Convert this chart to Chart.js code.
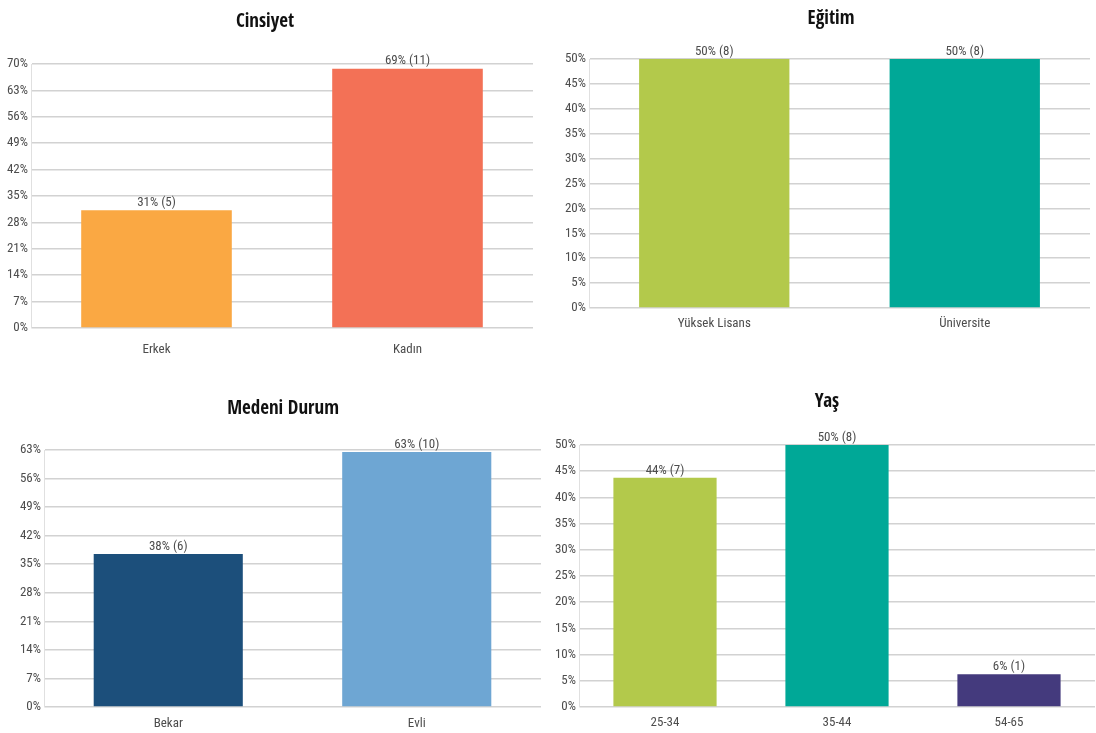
<!DOCTYPE html>
<html>
<head>
<meta charset="utf-8">
<script src="https://cdn.jsdelivr.net/npm/chart.js@4/dist/chart.umd.min.js"></script>
<style>
  html, body { margin: 0; padding: 0; background: #ffffff; }
  body { width: 1096px; height: 733px; position: relative; overflow: hidden; }
  .box { position: absolute; }
</style>
</head>
<body>
<div class="box" style="left:0;top:0;width:548px;height:366px"><canvas id="c1" width="548" height="366"></canvas></div>
<div class="box" style="left:548px;top:0;width:548px;height:366px"><canvas id="c2" width="548" height="366"></canvas></div>
<div class="box" style="left:0;top:366px;width:548px;height:367px"><canvas id="c3" width="548" height="367"></canvas></div>
<div class="box" style="left:548px;top:366px;width:548px;height:367px"><canvas id="c4" width="548" height="367"></canvas></div>
<script>
// ---- Data ----
const cinsiyetTitle = 'Cinsiyet';
const cinsiyetCategories = ['Erkek', 'Kadın'];
const cinsiyetValues = [31.25, 68.75];
const cinsiyetPctLabels = [31, 69];
const cinsiyetCounts = [5, 11];
const cinsiyetColors = ['#FAA843', '#F37156'];
const cinsiyetTicks = [0, 7, 14, 21, 28, 35, 42, 49, 56, 63, 70];

const egitimTitle = 'Eğitim';
const egitimCategories = ['Yüksek Lisans', 'Üniversite'];
const egitimValues = [50, 50];
const egitimPctLabels = [50, 50];
const egitimCounts = [8, 8];
const egitimColors = ['#B3C94B', '#00A897'];
const egitimTicks = [0, 5, 10, 15, 20, 25, 30, 35, 40, 45, 50];

const medeniTitle = 'Medeni Durum';
const medeniCategories = ['Bekar', 'Evli'];
const medeniValues = [37.5, 62.5];
const medeniPctLabels = [38, 63];
const medeniCounts = [6, 10];
const medeniColors = ['#1C4F7B', '#6EA6D3'];
const medeniTicks = [0, 7, 14, 21, 28, 35, 42, 49, 56, 63];

const yasTitle = 'Yaş';
const yasCategories = ['25-34', '35-44', '54-65'];
const yasValues = [43.75, 50, 6.25];
const yasPctLabels = [44, 50, 6];
const yasCounts = [7, 8, 1];
const yasColors = ['#B3C94B', '#00A897', '#443A7D'];
const yasTicks = [0, 5, 10, 15, 20, 25, 30, 35, 40, 45, 50];

// ---- Style ----
const FONT = "'Roboto Condensed', 'DejaVu Sans Condensed', sans-serif";
const TITLE_FONT = "'Open Sans Condensed', 'Roboto Condensed', sans-serif";
const TEXT = '#4d4d4d';

const valueLabelPlugin = {
  id: 'valueLabels',
  afterDatasetsDraw(chart, args, opts) {
    const ctx = chart.ctx;
    const meta = chart.getDatasetMeta(0);
    ctx.save();
    ctx.font = '13px ' + FONT;
    ctx.fillStyle = TEXT;
    ctx.textAlign = 'center';
    ctx.textBaseline = 'bottom';
    meta.data.forEach((bar, i) => {
      ctx.fillText(opts.pct[i] + '% (' + opts.counts[i] + ')', bar.x, bar.y - 1);
    });
    ctx.restore();
  }
};

const titlePlugin = {
  id: 'placedTitle',
  afterDraw(chart, args, opts) {
    const ctx = chart.ctx;
    ctx.save();
    ctx.font = 'bold 19px ' + TITLE_FONT;
    ctx.fillStyle = '#111111';
    ctx.textAlign = 'center';
    ctx.textBaseline = 'middle';
    ctx.fillText(opts.text, opts.x, opts.y);
    ctx.restore();
  }
};

function makeChart(id, cfg) {
  return new Chart(document.getElementById(id), {
    type: 'bar',
    data: {
      labels: cfg.categories,
      datasets: [{
        data: cfg.values,
        backgroundColor: cfg.colors,
        borderWidth: 0,
        barPercentage: 0.6,
        categoryPercentage: 1.0
      }]
    },
    plugins: [valueLabelPlugin, titlePlugin],
    options: {
      responsive: false,
      animation: false,
      layout: { padding: { left: 0, right: cfg.padR, top: cfg.top, bottom: 0 } },
      plugins: {
        legend: { display: false },
        tooltip: { enabled: false },
        title: { display: false },
        placedTitle: { text: cfg.title, x: cfg.titleX, y: cfg.titleY },
        valueLabels: { pct: cfg.pct, counts: cfg.counts }
      },
      scales: {
        x: {
          grid: { display: false },
          border: { display: false },
          ticks: { color: TEXT, font: { family: FONT, size: 13 }, padding: cfg.xPad, maxRotation: 0 },
          afterFit(scale) { scale.height = cfg.xHeight; }
        },
        y: {
          min: 0,
          max: cfg.ticks[cfg.ticks.length - 1],
          afterBuildTicks(scale) { scale.ticks = cfg.ticks.map(v => ({ value: v })); },
          grid: { color: '#d2d2d2', lineWidth: 1.5, drawTicks: false },
          border: { display: true, color: '#e0e0e0', width: 1 },
          ticks: {
            color: TEXT,
            font: { family: FONT, size: 13 },
            padding: 3,
            callback: v => v + '%'
          },
          afterFit(scale) { scale.width = cfg.yWidth; }
        }
      }
    }
  });
}

makeChart('c1', {
  title: cinsiyetTitle, categories: cinsiyetCategories, values: cinsiyetValues,
  pct: cinsiyetPctLabels, counts: cinsiyetCounts, colors: cinsiyetColors, ticks: cinsiyetTicks,
  padR: 15, yWidth: 31, top: 64, titleX: 265, titleY: 22, xHeight: 38, xPad: 6
});
makeChart('c2', {
  title: egitimTitle, categories: egitimCategories, values: egitimValues,
  pct: egitimPctLabels, counts: egitimCounts, colors: egitimColors, ticks: egitimTicks,
  padR: 6, yWidth: 41, top: 59, titleX: 283, titleY: 19, xHeight: 58, xPad: 0
});
makeChart('c3', {
  title: medeniTitle, categories: medeniCategories, values: medeniValues,
  pct: medeniPctLabels, counts: medeniCounts, colors: medeniColors, ticks: medeniTicks,
  padR: 7, yWidth: 44, top: 84, titleX: 283, titleY: 43, xHeight: 26, xPad: 1
});
makeChart('c4', {
  title: yasTitle, categories: yasCategories, values: yasValues,
  pct: yasPctLabels, counts: yasCounts, colors: yasColors, ticks: yasTicks,
  padR: 1, yWidth: 31, top: 79, titleX: 279, titleY: 36, xHeight: 26, xPad: 0
});
</script>
</body>
</html>
